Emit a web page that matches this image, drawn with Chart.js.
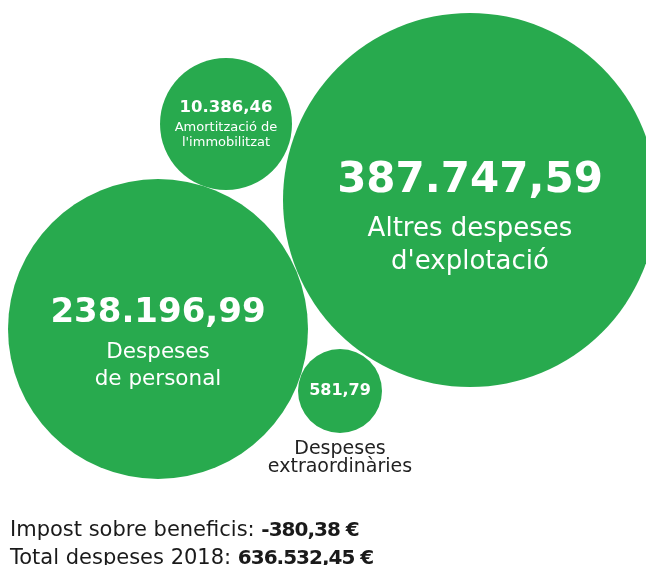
<!DOCTYPE html>
<html>
<head>
<meta charset="utf-8">
<script src="https://cdn.jsdelivr.net/npm/chart.js@4/dist/chart.umd.min.js"></script>
<style>
  html, body { margin: 0; padding: 0; background: #ffffff; }
  #wrap { position: relative; width: 646px; height: 565px; overflow: hidden; }
  #chart { position: absolute; left: 0; top: 0; }
  .foot { position: absolute; left: 10px; font-family: "DejaVu Sans", sans-serif; font-size: 21px; line-height: 21px; color: #1a1a1a; white-space: nowrap; font-weight: 400; }
  .foot b { font-weight: 700; font-size: 20px; letter-spacing: -1px; }
</style>
</head>
<body>
<div id="wrap">
  <canvas id="chart" width="646" height="565"></canvas>
  <div class="foot" style="top:519px">Impost sobre beneficis: <b>-380,38 €</b></div>
  <div class="foot" style="top:547px">Total despeses 2018: <b>636.532,45 €</b></div>
</div>
<script>
// ---- data ----
const categories = [
  ["Altres despeses", "d'explotació"],
  ["Despeses", "de personal"],
  ["Amortització de", "l'immobilitzat"],
  ["Despeses", "extraordinàries"]
];
const values = [387747.59, 238196.99, 10386.46, 581.79];
const impost = -380.38;
const totalDespeses = 636532.45;

// ---- layout (bubble placement, in scale units) ----
const layoutX = [470, 158, 226, 340];
const layoutY = [200, 329, 124, 391];
const layoutR = [187, 150, 66, 42];

function fmt(v) {
  const neg = v < 0;
  const s = Math.abs(v).toFixed(2).split('.');
  const int = s[0].replace(/\B(?=(\d{3})+(?!\d))/g, '.');
  return (neg ? '-' : '') + int + ',' + s[1];
}

const GREEN = '#28aa4e';
const FONT = '"DejaVu Sans", sans-serif';

// label styles per bubble
const labelStyle = [
  { numSize: 42, numDy: -19, lblSize: 26, lblDy: [29, 62], lblColor: '#ffffff' },
  { numSize: 34, numDy: -16, lblSize: 21.5, lblDy: [23, 50], lblColor: '#ffffff' },
  { numSize: 16.5, numDy: -16, lblSize: 13, lblDy: [4, 19], lblColor: '#ffffff' },
  { numSize: 16, numDy: 0, lblSize: 19, lblDy: [58, 76], lblColor: '#222222' }
];

const labelPlugin = {
  id: 'bubbleLabels',
  afterDatasetsDraw(chart) {
    const ctx = chart.ctx;
    const meta = chart.getDatasetMeta(0);
    meta.data.forEach((el, i) => {
      const st = labelStyle[i];
      const x = el.x, y = el.y;
      ctx.save();
      ctx.textAlign = 'center';
      ctx.textBaseline = 'middle';
      ctx.fillStyle = '#ffffff';
      ctx.font = `bold ${st.numSize}px ${FONT}`;
      ctx.fillText(fmt(values[i]), x, y + st.numDy);
      ctx.fillStyle = st.lblColor;
      ctx.font = `400 ${st.lblSize}px ${FONT}`;
      categories[i].forEach((line, k) => {
        ctx.fillText(line, x, y + st.lblDy[k]);
      });
      ctx.restore();
    });
  }
};

new Chart(document.getElementById('chart'), {
  type: 'bubble',
  data: {
    datasets: [{
      data: values.map((v, i) => ({ x: layoutX[i], y: layoutY[i], r: layoutR[i], v })),
      backgroundColor: GREEN,
      borderWidth: 0,
      hoverBorderWidth: 0,
      clip: false
    }]
  },
  options: {
    responsive: false,
    animation: false,
    events: [],
    layout: { padding: 0, autoPadding: false },
    plugins: { legend: { display: false }, tooltip: { enabled: false } },
    scales: {
      x: { type: 'linear', min: 0, max: 646, display: false },
      y: { type: 'linear', min: 0, max: 565, reverse: true, display: false }
    }
  },
  plugins: [labelPlugin]
});
</script>
</body>
</html>
